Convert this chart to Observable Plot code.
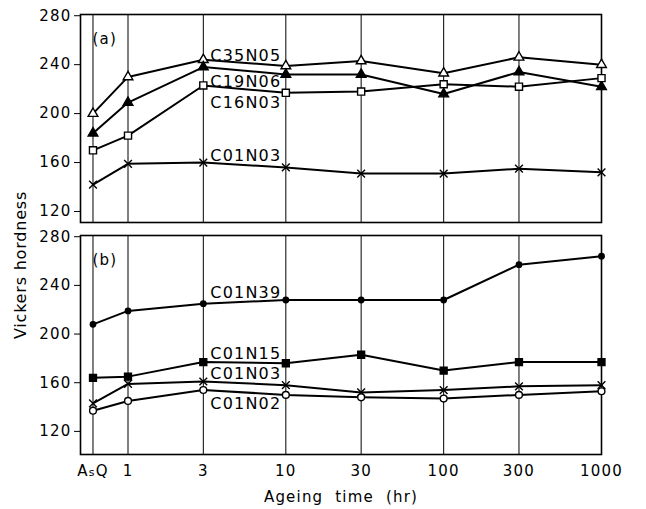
<!DOCTYPE html>
<html><head><meta charset="utf-8">
<script src="https://cdn.jsdelivr.net/npm/d3@7"></script>
<script src="https://cdn.jsdelivr.net/npm/@observablehq/plot@0.6"></script>
<style>
body{margin:0;background:#fff;}
#wrap{position:relative;width:646px;height:509px;overflow:hidden;font-family:"DejaVu Sans",sans-serif;background:#fff;}
#wrap svg{display:block;}
#ylab{position:absolute;left:20px;top:265px;transform:translate(-50%,-50%) rotate(-90deg);white-space:nowrap;font-size:16px;letter-spacing:0.8px;color:#000;}
</style></head><body><div id="wrap"><div id="ylab">Vickers hordness</div></div>
<script>
// Ageing time (hr); "AsQ" = as-quenched, placed left of 1 h on the log axis
const times = [0.6, 1, 3, 10, 30, 100, 300, 1000];
const timeLabels = ["AsQ", "1", "3", "10", "30", "100", "300", "1000"];
const yTicks = [120, 160, 200, 240, 280];

// Panel (a)
const c35n05 = [200, 230, 244, 239, 243, 233, 246, 240];
const c19n06 = [184, 209, 238, 232, 232, 216, 234, 222];
const c16n03 = [170, 182, 223, 217, 218, 224, 222, 229];
const c01n03a = [142, 159, 160, 156, 151, 151, 155, 152];

// Panel (b)
const c01n39 = [208, 219, 225, 228, 228, 228, 257, 264];
const c01n15 = [164, 165, 177, 176, 183, 170, 177, 177];
const c01n03b = [143, 159, 161, 158, 152, 154, 157, 158];
const c01n02 = [137, 145, 154, 150, 148, 147, 150, 153];

const seriesA = [
  {label: "C35N05", values: c35n05, symbol: "triangle", fill: "white", r: 3.6, dy: -4},
  {label: "C19N06", values: c19n06, symbol: "triangle", fill: "black", r: 3.6, dy: 15},
  {label: "C16N03", values: c16n03, symbol: "square", fill: "white", r: 4, dy: 17},
  {label: "C01N03", values: c01n03a, symbol: "times", fill: "none", r: 3.6, dy: -7}
];
const seriesB = [
  {label: "C01N39", values: c01n39, symbol: "circle", fill: "black", r: 2.7, dy: -11},
  {label: "C01N15", values: c01n15, symbol: "square", fill: "black", r: 3.9, dy: -8},
  {label: "C01N03", values: c01n03b, symbol: "times", fill: "none", r: 3.6, dy: -8},
  {label: "C01N02", values: c01n02, symbol: "circle", fill: "white", r: 3.4, dy: 14}
];

function panel({series, domain, height, marginTop, marginBottom, tag, showX}) {
  const marks = [
    Plot.ruleX(times, {stroke: "black", strokeWidth: 1}),
    Plot.frame({stroke: "black", strokeWidth: 1.6}),
    Plot.axisY({ticks: yTicks, tickSize: 6, tickPadding: 3, label: null, fontSize: 15}),
    Plot.text([tag], {frameAnchor: "top-left", dx: 12, dy: 19, textAnchor: "start", fontSize: 15})
  ];
  if (showX) {
    const tickRows = times.map((t, i) => ({t, label: timeLabels[i]}));
    marks.push(Plot.text(tickRows, {x: "t", text: "label", frameAnchor: "bottom", dy: 17, fontSize: 15, lineAnchor: "middle"}));
    marks.push(Plot.text(["Ageing  time  (hr)"], {frameAnchor: "bottom", dy: 43, fontSize: 15, lineAnchor: "middle"}));
  }
  for (const s of series) {
    const rows = s.values.map((v, i) => ({t: times[i], v}));
    marks.push(Plot.line(rows, {x: "t", y: "v", stroke: "black", strokeWidth: 2}));
  }
  for (const s of series) {
    const rows = s.values.map((v, i) => ({t: times[i], v}));
    marks.push(Plot.dot(rows, {x: "t", y: "v", symbol: s.symbol, r: s.r, fill: s.fill, stroke: "black", strokeWidth: 1.4}));
    marks.push(Plot.text([{t: times[2], v: s.values[2], label: s.label}], {x: "t", y: "v", text: "label", dx: 7, dy: s.dy, textAnchor: "start", fontSize: 16, fill: "black"}));
  }
  return Plot.plot({
    width: 646, height, marginTop, marginBottom, marginLeft: 80, marginRight: 45,
    style: {fontFamily: "DejaVu Sans, sans-serif", fontSize: "15px", color: "black", background: "white", overflow: "visible", letterSpacing: "1.2px"},
    x: {type: "log", domain: [0.5, 1000], axis: null},
    y: {domain, axis: null},
    marks
  });
}

const wrap = document.getElementById("wrap");
const a = panel({series: seriesA, domain: [111, 281], height: 226, marginTop: 14, marginBottom: 4, tag: "(a)", showX: false});
const b = panel({series: seriesB, domain: [101, 281], height: 283, marginTop: 9, marginBottom: 55, tag: "(b)", showX: true});
wrap.insertBefore(a, wrap.firstChild);
wrap.insertBefore(b, a.nextSibling);

// render the "s" in AsQ smaller
b.querySelectorAll("text").forEach(t => {
  if (t.textContent === "AsQ") {
    const ns = "http://www.w3.org/2000/svg";
    const p1 = document.createElementNS(ns, "tspan"); p1.textContent = "A";
    const p2 = document.createElementNS(ns, "tspan"); p2.textContent = "s"; p2.setAttribute("font-size", "11");
    const p3 = document.createElementNS(ns, "tspan"); p3.textContent = "Q";
    t.textContent = "";
    t.appendChild(p1); t.appendChild(p2); t.appendChild(p3);
  }
});
</script></body></html>
